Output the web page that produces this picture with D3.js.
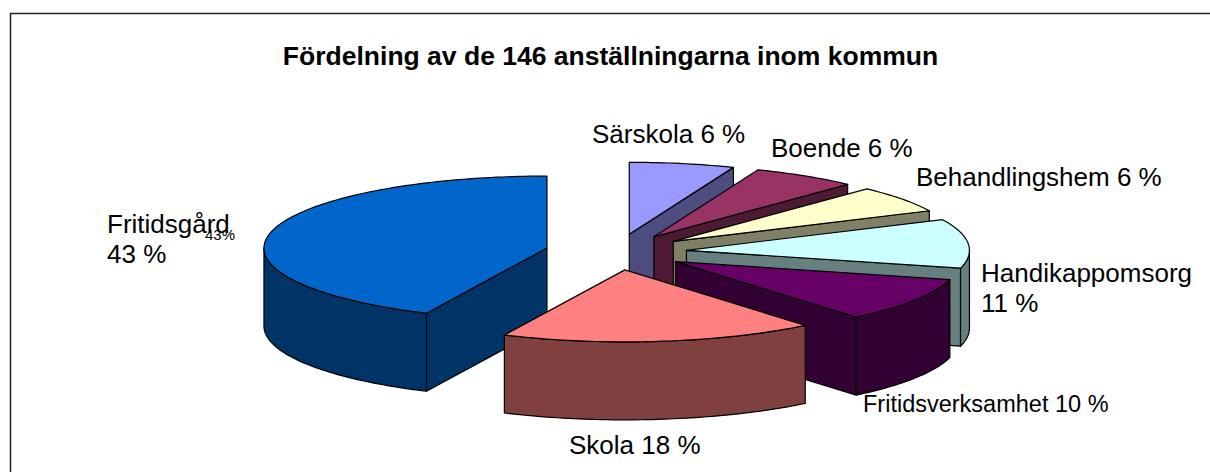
<!DOCTYPE html>
<html>
<head>
<meta charset="utf-8">
<script src="https://cdn.jsdelivr.net/npm/d3@7"></script>
<style>
  body { margin: 0; background: #fff; }
  svg { display: block; font-family: "Liberation Sans", Arial, sans-serif; }
</style>
</head>
<body>
<script>
const title = "Fördelning av de 146 anställningarna inom kommun";
const categories = ["Särskola", "Boende", "Behandlingshem", "Handikappomsorg", "Fritidsverksamhet", "Skola", "Fritidsgård"];
const percents = [6, 6, 6, 11, 10, 18, 43];
const colors = ["#9999FF", "#993366", "#FFFFCC", "#CCFFFF", "#660066", "#FF8080", "#0066CC"];

const width = 1210;
const height = 472;

// ellipse of the pie (3d, seen from above), explosion as part of radius
const cx = 616, cy = 252, rx = 283, ry = 72, depth = 78, explode = 0.25;

// where excel put the data labels
const labelPos = {
  "Särskola": { x: 592, y: 143 },
  "Boende": { x: 771, y: 157 },
  "Behandlingshem": { x: 916, y: 186 },
  "Handikappomsorg": { x: 981, y: 282, wrap: true },
  "Fritidsverksamhet": { x: 863, y: 412, size: 23.5 },
  "Skola": { x: 569, y: 454 },
  "Fritidsgård": { x: 107, y: 233, wrap: true }
};

const svg = d3
  .select("body")
  .append("svg")
  .attr("width", width)
  .attr("height", height);

// chart frame (runs off the right and bottom)
svg
  .append("rect")
  .attr("x", 10.5)
  .attr("y", 13.5)
  .attr("width", 1300)
  .attr("height", 600)
  .attr("fill", "none")
  .attr("stroke", "#222")
  .attr("stroke-width", 1.5);

svg
  .append("text")
  .attr("x", 610.5)
  .attr("y", 65)
  .attr("text-anchor", "middle")
  .style("font-size", "26.5px")
  .style("font-weight", "bold")
  .text(title);

const pie = d3.pie().sort(null).value((d) => d.value);
const slices = pie(
  categories.map((c, i) => ({ name: c, value: percents[i], color: colors[i] }))
);

// angle is clockwise from 12 o'clock, like d3.pie
const px = (a, r = 1) => rx * r * Math.sin(a);
const py = (a, r = 1) => -ry * r * Math.cos(a);

slices.forEach((s) => {
  const mid = (s.startAngle + s.endAngle) / 2;
  s.ox = cx + px(mid, explode);
  s.oy = cy + py(mid, explode);
  s.front = -Math.cos(mid);
});

function arcPts(s, a0, a1, dy) {
  const n = Math.max(2, Math.ceil((a1 - a0) / 0.02));
  return d3.range(n + 1).map((i) => {
    const a = a0 + ((a1 - a0) * i) / n;
    return [s.ox + px(a), s.oy + py(a) + dy];
  });
}

const line = d3.line().curve(d3.curveLinearClosed);

const shade = (c) => {
  const k = d3.rgb(c);
  return d3.rgb(k.r * 0.5, k.g * 0.5, k.b * 0.5).formatHex();
};

// back to front
const order = slices.slice().sort((a, b) => a.front - b.front);

order.forEach((s) => {
  const g = svg.append("g").attr("class", "slice");
  const side = shade(s.data.color);
  const faces = [];

  // cut walls facing the viewer
  [s.startAngle, s.endAngle].forEach((a, k) => {
    const vis = k === 0 ? Math.sin(a) < -1e-6 : Math.sin(a) > 1e-6;
    if (!vis) return;
    const x = s.ox + px(a), y = s.oy + py(a);
    faces.push([
      [s.ox, s.oy],
      [x, y],
      [x, y + depth],
      [s.ox, s.oy + depth]
    ]);
  });

  // outer curved wall, front half only
  const lo = Math.max(s.startAngle, Math.PI / 2);
  const hi = Math.min(s.endAngle, (3 * Math.PI) / 2);
  if (hi > lo) {
    faces.push(arcPts(s, lo, hi, 0).concat(arcPts(s, lo, hi, depth).reverse()));
  }

  faces.forEach((f) => {
    g.append("path")
      .attr("d", line(f))
      .attr("fill", side)
      .attr("stroke", "#000")
      .attr("stroke-width", 1.2)
      .attr("stroke-linejoin", "round");
  });

  g.append("path")
    .attr("d", line([[s.ox, s.oy]].concat(arcPts(s, s.startAngle, s.endAngle, 0))))
    .attr("fill", s.data.color)
    .attr("stroke", "#000")
    .attr("stroke-width", 1.2)
    .attr("stroke-linejoin", "round");
});

// data labels
slices.forEach((s) => {
  const p = labelPos[s.data.name];
  const t = svg
    .append("text")
    .attr("x", p.x)
    .attr("y", p.y)
    .style("font-size", (p.size || 26) + "px")
    .attr("fill", "#000");
  if (p.wrap) {
    t.append("tspan").attr("x", p.x).text(s.data.name);
    t.append("tspan").attr("x", p.x).attr("dy", 30).text(s.data.value + " %");
  } else {
    t.text(s.data.name + " " + s.data.value + " %");
  }
});

// the stray small label on top of Fritidsgård
svg
  .append("text")
  .attr("x", 205)
  .attr("y", 240)
  .style("font-size", "15px")
  .text(percents[6] + "%");
</script>
</body>
</html>
